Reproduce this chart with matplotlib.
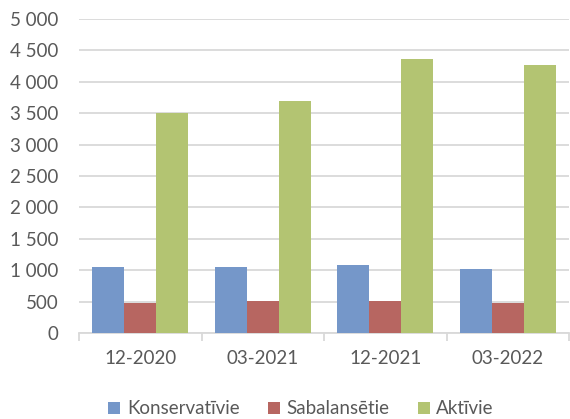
import matplotlib
matplotlib.use("Agg")
from matplotlib import pyplot as plt
from matplotlib.ticker import FuncFormatter
import numpy as np

categories = ["12-2020", "03-2021", "12-2021", "03-2022"]
konservativie = [1055, 1055, 1085, 1020]
sabalansetie = [485, 510, 510, 480]
aktivie = [3500, 3695, 4365, 4270]
series_names = ["Konservatīvie", "Sabalansētie", "Aktīvie"]

colors = ["#7597C9", "#B76661", "#B3C472"]
text_color = "#595959"
grid_color = "#D9D9D9"

plt.rcParams["font.family"] = ["Lato", "DejaVu Sans"]

fig = plt.figure(figsize=(5.7, 4.19), dpi=100)
ax = fig.add_axes([0.1386, 0.2053, 0.86, 0.7494])

x = np.arange(len(categories))
w = 0.261
for i, vals in enumerate([konservativie, sabalansetie, aktivie]):
    ax.bar(x + (i - 1) * w, vals, width=w, color=colors[i], label=series_names[i], zorder=3)

ax.set_xlim(-0.5, len(categories) - 0.5)
ax.set_ylim(0, 5000)
ax.set_yticks(np.arange(0, 5001, 500))
ax.yaxis.set_major_formatter(FuncFormatter(lambda v, p: f"{int(v):,}".replace(",", " ")))
ax.grid(axis="y", color=grid_color, linewidth=1.3, zorder=0)

ax.set_xticks(x)
ax.set_xticklabels(categories)
ax.set_xticks(np.arange(-0.5, len(categories), 1.0), minor=True)
ax.tick_params(axis="x", which="major", length=0, pad=12, labelsize=13.5, labelcolor=text_color)
ax.tick_params(axis="x", which="minor", length=6, width=1.3, color=grid_color)
ax.tick_params(axis="y", length=0, pad=15, labelsize=13.5, labelcolor=text_color)

for s in ["top", "right", "left"]:
    ax.spines[s].set_visible(False)
ax.spines["bottom"].set_color(grid_color)
ax.spines["bottom"].set_linewidth(1.3)

fig.legend(loc="center", bbox_to_anchor=(0.528, 0.024), ncol=3, frameon=False,
           fontsize=13.5, labelcolor=text_color, handlelength=0.65, handleheight=0.65,
           handletextpad=0.35, columnspacing=1.5, borderpad=0.1)

fig.savefig("out.png", dpi=100)
